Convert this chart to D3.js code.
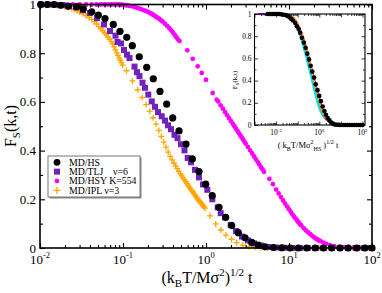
<!DOCTYPE html>
<html>
<head>
<meta charset="utf-8">
<script src="https://cdn.jsdelivr.net/npm/d3@7"></script>
<style>
  body { margin: 0; background: #fff; }
  text { font-family: "Liberation Serif", "Times New Roman", serif; fill: #000; }
</style>
</head>
<body>
<div id="chart"></div>
<script>
// MD/HS  [t, Fs]
let hs = [[0.0041,1],[0.0049,1],[0.0059,1],[0.0071,1],[0.0085,1],[0.0102,1],[0.01225,1],[0.01475,1],
  [0.01774,0.997],[0.0219,0.993],[0.0277,0.991],[0.0332,0.982],[0.042,0.970],[0.0504,0.956],[0.0607,0.942],
  [0.0764,0.918],[0.092,0.890],[0.111,0.865],[0.1295,0.831],[0.157,0.785],[0.193,0.742],[0.232,0.695],
  [0.279,0.643],[0.336,0.591],[0.397,0.534],[0.473,0.481],[0.574,0.427],[0.684,0.366],[0.824,0.314],
  [0.991,0.262],[1.19,0.215],[1.435,0.167],[1.727,0.126],[2.04,0.092],[2.45,0.063],[2.95,0.042],
  [3.56,0.023],[4.27,0.012],[5.14,0.005],[6.47,0.002],[8.17,0.001],[10.3,0],[12.9,0],[16.3,0],[20.6,0],
  [25.9,0],[32.6,0],[41.1,0],[51.8,0],[65.4,0],[82.4,0],[100,0]]

// MD/TLJ nu=6
let tlj = [[0.0103,1],[0.01248,1],[0.01517,0.999],[0.01841,0.997],[0.02235,0.993],[0.02714,0.988],
  [0.03295,0.977],[0.04,0.965],[0.0486,0.944],[0.059,0.918],[0.0697,0.891],[0.0812,0.872],[0.0859,0.846],
  [0.0947,0.840],[0.1028,0.813],[0.1117,0.794],[0.1198,0.780],[0.1376,0.745],[0.1475,0.722],[0.158,0.706],
  [0.1718,0.679],[0.1841,0.658],[0.2018,0.630],[0.2218,0.602],[0.2431,0.580],[0.2642,0.558],[0.2927,0.541],
  [0.3207,0.523],[0.3484,0.504],[0.3786,0.488],[0.417,0.465],[0.4535,0.451],[0.4996,0.426],[0.5506,0.401],
  [0.602,0.370],[0.6598,0.352],[0.7369,0.321],[0.8234,0.290],[0.9203,0.261],[1.037,0.239],[1.191,0.200],
  [1.384,0.167],[1.504,0.143],[1.694,0.126],[1.985,0.095],[2.298,0.070],[2.716,0.047],[3.206,0.031],
  [3.787,0.019],[4.6,0.010],[5.58,0.004],[6.97,0.002],[8.71,0.001],[10.9,0],[13.6,0],[16.9,0],[21.1,0],
  [26.4,0],[33,0],[41.1,0],[51.4,0],[64.1,0],[80.2,0],[100,0]]

// MD/HSY K=554
let hsy = [[0.01,1],[0.0125,1],[0.016,1],[0.02,1],[0.025,1],[0.03,1],[0.036,1],[0.042,1],[0.048,1],
  [0.054,1],[0.06,1],[0.066,1],[0.072,1],[0.078,1],[0.084,1],[0.09,1],[0.096,0.999],[0.102,0.998],
  [0.108,0.997],[0.114,0.996],[0.12,0.994],[0.13,0.992],[0.14,0.989],[0.15,0.986],[0.16,0.983],
  [0.17,0.979],[0.18,0.976],[0.19,0.973],[0.2,0.970],[0.21,0.966],[0.22,0.962],[0.23,0.958],[0.24,0.954],
  [0.25,0.950],[0.26,0.946],[0.27,0.942],[0.28,0.938],[0.29,0.934],[0.3,0.930],[0.32,0.921],[0.34,0.912],
  [0.36,0.903],[0.38,0.894],[0.4,0.885],[0.42,0.875],[0.44,0.866],[0.46,0.857],[0.48,0.850],
  [0.595,0.812],[0.692,0.777],[0.795,0.746],[0.888,0.719],[1.0,0.691],[1.204,0.637],[1.346,0.609],
  [1.4,0.602],[1.5,0.586],[1.6,0.572],[1.7,0.558],[1.8,0.545],[1.9,0.533],[2.0,0.521],[2.1,0.510],
  [2.2,0.500],[2.3,0.490],[2.4,0.480],[2.5,0.471],[2.6,0.462],[2.7,0.453],[2.8,0.445],[2.9,0.437],
  [3.0,0.429],[3.2,0.415],[3.4,0.401],[3.6,0.388],[3.8,0.376],[4.0,0.364],[4.2,0.353],[4.4,0.342],
  [4.6,0.332],[4.8,0.323],[5.0,0.313],[5.8,0.284],[6.4,0.262],[7.0,0.240],[7.5,0.224],[8.0,0.209],
  [8.5,0.195],[9.0,0.182],[9.5,0.170],[10,0.159],[10.5,0.148],[11,0.138],[11.5,0.129],[12,0.121],
  [12.5,0.113],[13,0.106],[13.5,0.099],[14,0.093],[15,0.082],[16,0.072],[17,0.064],[18,0.057],[19,0.050],
  [20,0.044],[21,0.039],[22,0.035],[23,0.031],[24,0.028],[26,0.022],[28,0.017],[31,0.012],[35,0.008],
  [40,0.005],[46,0.003],[53,0.002],[61,0.001],[70,0],[80,0],[90,0],[100,0]]

// MD/IPL nu=3
let ipl = [[0.01,1],[0.012,0.999],[0.014,0.998],[0.016,0.996],[0.018,0.994],[0.02,0.991],[0.022,0.988],
  [0.024,0.984],[0.026,0.979],[0.028,0.974],[0.03,0.969],[0.033,0.962],[0.036,0.954],[0.039,0.947],
  [0.042,0.939],[0.045,0.930],[0.048,0.920],[0.051,0.909],[0.054,0.900],[0.057,0.892],[0.06,0.884],
  [0.063,0.876],[0.066,0.867],[0.069,0.858],[0.072,0.848],[0.075,0.838],[0.078,0.826],[0.081,0.814],
  [0.084,0.801],[0.087,0.791],[0.09,0.781],[0.093,0.771],[0.096,0.761],[0.099,0.751],
  [0.11,0.728],[0.13,0.686],[0.15,0.650],[0.17,0.618],[0.19,0.589],[0.21,0.562],[0.23,0.535],
  [0.25,0.509],[0.27,0.483],[0.29,0.458],[0.31,0.435],[0.33,0.414],[0.35,0.394],[0.37,0.376],
  [0.39,0.362],[0.41,0.349],[0.43,0.337],[0.45,0.326],[0.47,0.315],[0.49,0.305],[0.51,0.296],
  [0.53,0.288],[0.55,0.280],[0.57,0.272],[0.59,0.264],[0.61,0.257],[0.63,0.250],[0.65,0.243],
  [0.67,0.237],[0.69,0.231],[0.71,0.225],[0.73,0.219],[0.75,0.213],[0.77,0.208],[0.79,0.202],
  [0.81,0.197],[0.83,0.193],[0.85,0.188],[0.87,0.184],[0.89,0.180],[0.91,0.176],[0.93,0.172],
  [0.95,0.168],[0.97,0.164],[1.12,0.132],[1.31,0.099],[1.51,0.074],[1.74,0.053],[2.03,0.036],
  [2.34,0.022],[2.78,0.012],[3.3,0.006],[3.9,0.003],[4.6,0.001],[5.5,0],[6.6,0],[7.9,0],[9.5,0],
  [11.4,0],[13.7,0],[16.4,0],[19.7,0],[23.6,0],[28.3,0],[34,0],[40.8,0],[49,0],[58.8,0],[70.5,0],
  [84.6,0],[100,0]]

// inset: curves scaled with sigma_HS (black one is MD/HS itself)
let insetCyan = [[0.00225,1],[0.0153,0.995],[0.036,0.982],[0.0613,0.946],[0.0938,0.883],[0.129,0.811],
  [0.178,0.721],[0.245,0.622],[0.337,0.514],[0.464,0.405],[0.64,0.288],[0.88,0.189],[1.21,0.117],
  [1.86,0.059],[3.16,0.027],[6.67,0.009],[26.7,0],[95,0]]
let insetMagenta = [[0.00147,1],[0.029,0.991],[0.0759,0.937],[0.1437,0.829],[0.232,0.712],[0.337,0.586],
  [0.49,0.468],[0.711,0.342],[1.03,0.225],[1.5,0.117],[2.55,0.036],[5.38,0.009],[95,0]]
let insetPurple = [[0.00527,1],[0.04,0.991],[0.0843,0.932],[0.1437,0.838],[0.232,0.712],[0.337,0.586],
  [0.464,0.473],[0.675,0.351],[0.98,0.225],[1.42,0.122],[2.42,0.041],[4.84,0.009],[77.4,0]]
let insetOrange = [[0.00653,1],[0.0445,0.986],[0.0843,0.937],[0.1437,0.842],[0.232,0.721],[0.337,0.595],
  [0.464,0.477],[0.64,0.36],[0.929,0.234],[1.349,0.126],[2.3,0.045],[4.84,0.009],[100,0]]

let xMajor = [0.01, 0.1, 1, 10, 100]
let xExp = ['-2', '-1', '0', '1', '2']
let yMajor = [0, 0.2, 0.4, 0.6, 0.8, 1]
let yLabels = ['0', '0.2', '0.4', '0.6', '0.8', '1']
let yMinor = [0.1, 0.3, 0.5, 0.7, 0.9]
let insetMajor = [0.001, 0.01, 0.1, 1, 10, 100]
let insetLabelled = [0.01, 1, 100]
let insetExp = ['-2', '0', '2']

let legendNames = ['MD/HS', 'MD/TLJ    \u03bd=6', 'MD/HSY K=554', 'MD/IPL \u03bd=3']

let width = 382
let height = 293

let svg = d3
  .select('#chart')
  .append('svg')
  .attr('width', width)
  .attr('height', height)

let x = d3.scaleLog().domain([0.01, 100]).range([40, 372])
let y = d3.scaleLinear().domain([0, 1]).range([248, 4.5])

let isMajor = v => Math.abs(Math.log10(v) - Math.round(Math.log10(v))) < 1e-6

// ticks on all four sides, pointing inward
function frame(g, x, y, majorsY, minorsY, big, small, lw) {
  let [x0, x1] = x.range()
  let [y0, y1] = y.range()
  let majorX = x.ticks().filter(isMajor)
  let minorX = x.ticks().filter(v => !isMajor(v))
  let sides = [
    [d3.axisBottom, `translate(0,${y0})`, x, majorX, minorX],
    [d3.axisTop, `translate(0,${y1})`, x, majorX, minorX],
    [d3.axisLeft, `translate(${x0},0)`, y, majorsY, minorsY],
    [d3.axisRight, `translate(${x1},0)`, y, majorsY, minorsY]
  ]
  sides.forEach(([ax, tr, sc, majors, minors]) => {
    g.append('g').attr('transform', tr)
      .call(ax(sc).tickValues(majors).tickSize(-big).tickSizeOuter(0).tickFormat(''))
      .call(a => a.select('.domain').remove())
    g.append('g').attr('transform', tr)
      .call(ax(sc).tickValues(minors).tickSize(-small).tickSizeOuter(0).tickFormat(''))
      .call(a => a.select('.domain').remove())
  })
  g.selectAll('.tick line').attr('stroke', '#000').attr('stroke-width', lw * 0.7)
  g.append('rect')
    .attr('x', x0).attr('y', y1)
    .attr('width', x1 - x0).attr('height', y0 - y1)
    .attr('fill', 'none').attr('stroke', '#000').attr('stroke-width', lw)
}

let inDomain = d => d[0] >= 0.0099 && d[0] <= 100.1

// main plot markers
let plot = svg.append('g')

plot.selectAll('.ipl')
  .data(ipl.filter(inDomain))
  .enter()
  .append('path')
  .attr('class', 'ipl')
  .attr('d', 'M-3,0H3M0,-3V3')
  .attr('transform', d => `translate(${x(d[0])},${y(d[1])})`)
  .attr('stroke', '#ffa500')
  .attr('stroke-width', 1.3)
  .attr('fill', 'none')

plot.selectAll('.hsy')
  .data(hsy.filter(inDomain))
  .enter()
  .append('circle')
  .attr('class', 'hsy')
  .attr('cx', d => x(d[0]))
  .attr('cy', d => y(d[1]))
  .attr('r', 2.4)
  .attr('fill', '#ff00ff')

plot.selectAll('.tlj')
  .data(tlj.filter(inDomain))
  .enter()
  .append('rect')
  .attr('class', 'tlj')
  .attr('x', d => x(d[0]) - 3)
  .attr('y', d => y(d[1]) - 3)
  .attr('width', 6)
  .attr('height', 6)
  .attr('fill', '#7221bc')

plot.selectAll('.hs')
  .data(hs.filter(inDomain))
  .enter()
  .append('circle')
  .attr('class', 'hs')
  .attr('cx', d => x(d[0]))
  .attr('cy', d => y(d[1]))
  .attr('r', 3.6)
  .attr('fill', '#000')

frame(svg.append('g'), x, y, yMajor, yMinor, 5, 3, 1.6)

// tick labels
svg.selectAll('.xlab')
  .data(xMajor)
  .enter()
  .append('text')
  .attr('class', 'xlab')
  .attr('x', d => x(d))
  .attr('y', 263.5)
  .attr('text-anchor', 'middle')
  .attr('font-size', 13)
  .each(function (d, i) {
    let t = d3.select(this)
    t.append('tspan').text('10')
    t.append('tspan').attr('dy', -6).attr('font-size', 8.5).text(xExp[i])
  })

svg.selectAll('.ylab')
  .data(yMajor)
  .enter()
  .append('text')
  .attr('class', 'ylab')
  .attr('x', 36)
  .attr('y', d => y(d))
  .attr('dy', '0.35em')
  .attr('text-anchor', 'end')
  .attr('font-size', 13)
  .text((d, i) => yLabels[i])

// axis titles
let xt = svg.append('text')
  .attr('x', 207)
  .attr('y', 282.5)
  .attr('text-anchor', 'middle')
  .attr('font-size', 16)
xt.append('tspan').text('(k')
xt.append('tspan').attr('dy', 4).attr('font-size', 11).text('B')
xt.append('tspan').attr('dy', -4).text('T/M\u03c3')
xt.append('tspan').attr('dy', -7).attr('font-size', 11).text('2')
xt.append('tspan').attr('dy', 7).text(')')
xt.append('tspan').attr('dy', -7).attr('font-size', 11).text('1/2')
xt.append('tspan').attr('dy', 7).text(' t')

let yt = svg.append('text')
  .attr('transform', 'translate(16,126) rotate(-90)')
  .attr('text-anchor', 'middle')
  .attr('font-size', 16)
yt.append('tspan').text('F')
yt.append('tspan').attr('dy', 4).attr('font-size', 11).text('S')
yt.append('tspan').attr('dy', -4).text('(k,t)')

// legend
let legend = svg.append('g')
legend.append('rect')
  .attr('x', 49.5).attr('y', 157.5).attr('width', 92).attr('height', 41)
  .attr('fill', '#888')
legend.append('rect')
  .attr('x', 48).attr('y', 156).attr('width', 92).attr('height', 41)
  .attr('fill', '#fff').attr('stroke', '#777').attr('stroke-width', 1)

let rowY = d3.scalePoint().domain(legendNames).range([162.3, 190.3])
legend.append('circle').attr('cx', 57).attr('cy', rowY(legendNames[0])).attr('r', 3.4).attr('fill', '#000')
legend.append('rect').attr('x', 54).attr('y', rowY(legendNames[1]) - 3).attr('width', 6).attr('height', 6).attr('fill', '#7221bc')
legend.append('circle').attr('cx', 57).attr('cy', rowY(legendNames[2])).attr('r', 2.4).attr('fill', '#ff00ff')
legend.append('path').attr('d', 'M-3.5,0H3.5M0,-3.5V3.5')
  .attr('transform', `translate(57,${rowY(legendNames[3])})`)
  .attr('stroke', '#ffa500').attr('stroke-width', 1.3)

legend.selectAll('.lt')
  .data(legendNames)
  .enter()
  .append('text')
  .attr('class', 'lt')
  .attr('x', 69)
  .attr('y', d => rowY(d) + 3.3)
  .attr('font-size', 9.8)
  .style('white-space', 'pre')
  .text(d => d)

// inset
let ix = d3.scaleLog().domain([0.001, 130.6]).range([254.5, 365])
let iy = d3.scaleLinear().domain([0, 1]).range([125, 14])

let inset = svg.append('g')
inset.append('rect')
  .attr('x', 254.5).attr('y', 14).attr('width', 110.5).attr('height', 111)
  .attr('fill', '#fff')

let iline = d3.line().x(d => ix(d[0])).y(d => iy(d[1])).curve(d3.curveMonotoneX)

let insetSets = [
  [insetCyan, '#00e5ee', 2.4],
  [insetMagenta, '#ff00ff', 2.2],
  [insetPurple, '#7221bc', 2],
  [insetOrange, '#ffa500', 1.8]
]
insetSets.forEach(([data, color, w]) => {
  inset.append('path')
    .datum(data)
    .attr('d', iline)
    .attr('fill', 'none')
    .attr('stroke', color)
    .attr('stroke-width', w)
})

inset.selectAll('.ihs')
  .data(hs)
  .enter()
  .append('circle')
  .attr('class', 'ihs')
  .attr('cx', d => ix(d[0]))
  .attr('cy', d => iy(d[1]))
  .attr('r', 2.3)
  .attr('fill', '#000')

frame(inset.append('g'), ix, iy, yMajor, yMinor, 3.5, 2, 1.1)

inset.selectAll('.ixl')
  .data(insetLabelled)
  .enter()
  .append('text')
  .attr('class', 'ixl')
  .attr('x', d => ix(d))
  .attr('y', 135)
  .attr('text-anchor', 'middle')
  .attr('font-size', 7.5)
  .each(function (d, i) {
    let t = d3.select(this)
    t.append('tspan').text('10')
    t.append('tspan').attr('dy', -3.5).attr('font-size', 5).text(insetExp[i])
  })

inset.selectAll('.iyl')
  .data(yMajor)
  .enter()
  .append('text')
  .attr('class', 'iyl')
  .attr('x', 251.5)
  .attr('y', d => iy(d))
  .attr('dy', '0.35em')
  .attr('text-anchor', 'end')
  .attr('font-size', 7.5)
  .text((d, i) => yLabels[i])

let ixt = inset.append('text')
  .attr('x', 308)
  .attr('y', 148)
  .attr('text-anchor', 'middle')
  .attr('font-size', 8.5)
ixt.append('tspan').text('( k')
ixt.append('tspan').attr('dy', 2.5).attr('font-size', 6).text('B')
ixt.append('tspan').attr('dy', -2.5).text('T/M\u03c3')
ixt.append('tspan').attr('dy', -4).attr('font-size', 6).text('2')
ixt.append('tspan').attr('dy', 6.5).attr('font-size', 6).text('HS')
ixt.append('tspan').attr('dy', -2.5).text(' )')
ixt.append('tspan').attr('dy', -4).attr('font-size', 6).text('1/2')
ixt.append('tspan').attr('dy', 4).text(' t')

let iyt = inset.append('text')
  .attr('transform', 'translate(237,80) rotate(-90)')
  .attr('text-anchor', 'middle')
  .attr('font-size', 7)
iyt.append('tspan').text('F')
iyt.append('tspan').attr('dy', 2).attr('font-size', 5).text('S')
iyt.append('tspan').attr('dy', -2).text('(k,t)')
</script>
</body>
</html>
